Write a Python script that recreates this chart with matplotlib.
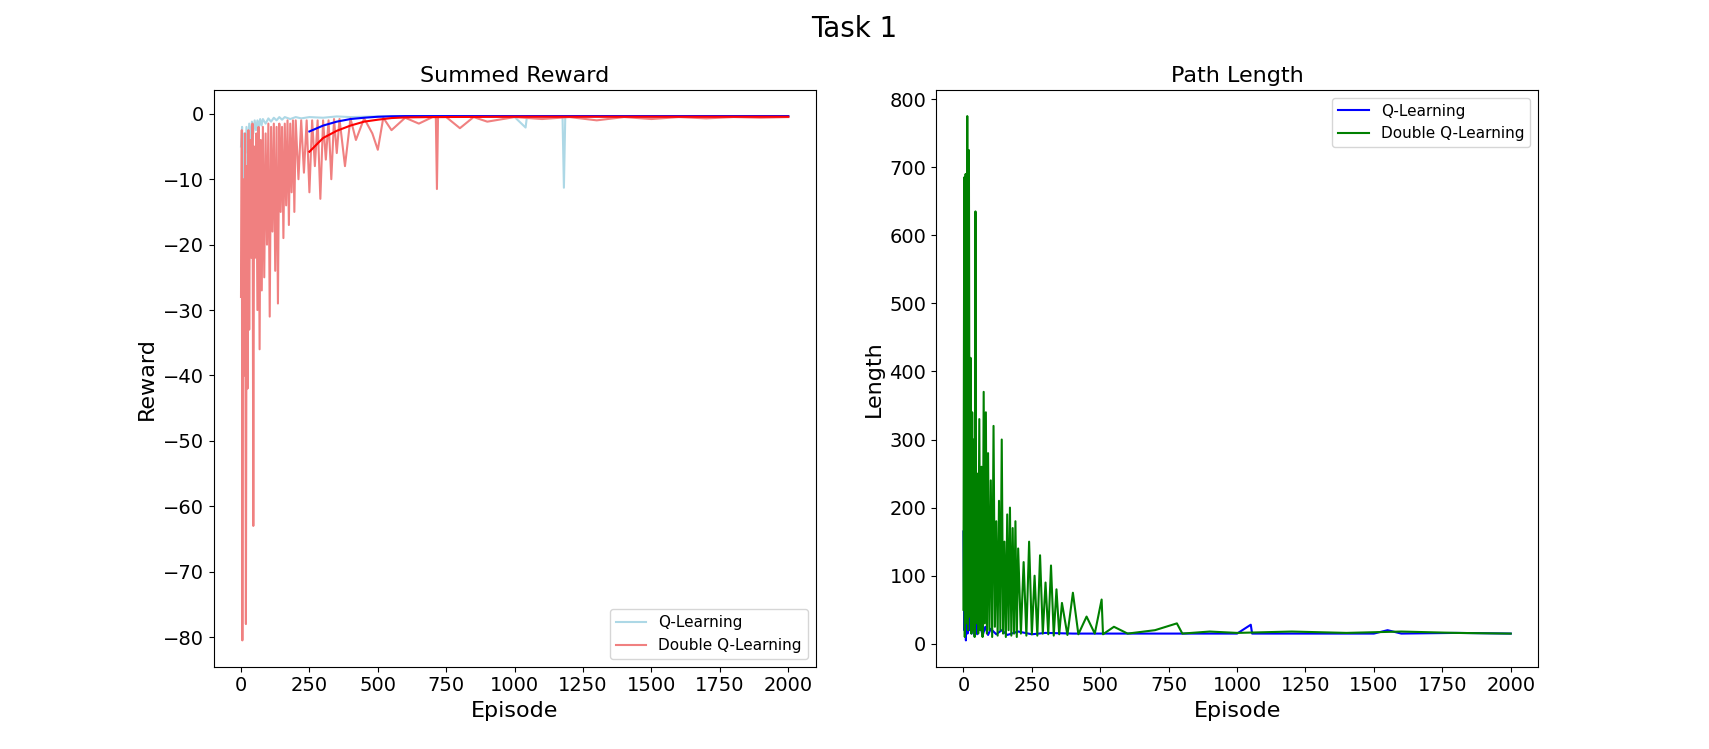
import matplotlib
matplotlib.use("Agg")
from matplotlib import pyplot as plt

q_ep = [0, 4, 8, 12, 16, 20, 25, 30, 35, 40, 45, 50, 55, 60, 65, 70, 75, 80, 90, 100, 110, 120, 130,
        140, 150, 160, 180, 200, 220, 250, 300, 350, 400, 500, 600, 800, 1000, 1040, 1045, 1100,
        1175, 1180, 1185, 1300, 1500, 1700, 1900, 2000]
q_rew = [-5, -2, -12, -3, -8, -2, -6, -1.5, -4, -1.2, -3, -1, -2.5, -1, -2, -0.8, -1.8, -0.8, -1.5,
         -0.7, -1.2, -0.6, -1.0, -0.5, -0.9, -0.5, -0.8, -0.5, -0.7, -0.5, -0.6, -0.4, -0.5, -0.4,
         -0.4, -0.4, -0.5, -2.1, -0.4, -0.4, -0.4, -11.3, -0.4, -0.4, -0.5, -0.4, -0.4, -0.4]

d_ep = [0, 3, 5, 8, 12, 15, 18, 21, 24, 27, 30, 34, 38, 42, 45, 48, 52, 56, 60, 64, 68, 72, 76, 80,
        85, 90, 95, 100, 105, 110, 115, 120, 125, 130, 135, 140, 145, 150, 155, 160, 165, 170,
        175, 180, 185, 190, 195, 200, 210, 220, 230, 240, 250, 260, 270, 280, 290, 300, 310, 320,
        330, 340, 350, 360, 380, 400, 420, 450, 480, 500, 520, 550, 600, 650, 700, 712, 716, 720,
        750, 800, 850, 900, 1000, 1100, 1200, 1300, 1400, 1500, 1600, 1700, 1800, 1900, 2000]
d_rew = [-28, -2.5, -80.5, -10, -40, -3, -78, -8, -42, -2.5, -33, -4, -22, -1.5, -63, -5, -22, -3,
         -30, -2, -36, -4, -27, -2, -25, -3, -20, -1.5, -31, -2, -18, -1.5, -24, -2, -29, -1.5,
         -15, -2, -19, -1.5, -14, -1, -17, -1.5, -12, -1, -15, -1, -10, -1, -9, -1, -12, -1, -8,
         -1, -13, -1, -7, -1, -10, -0.8, -6, -0.8, -8, -0.7, -4, -0.7, -3, -5.5, -0.6, -2.5, -0.6,
         -1.5, -0.5, -0.5, -11.5, -0.5, -0.5, -2.2, -0.5, -1.2, -0.5, -0.8, -0.5, -1.0, -0.5, -0.8,
         -0.5, -0.7, -0.5, -0.6, -0.5]

# Moving averages
ma_ep = [250, 300, 350, 400, 450, 500, 550, 600, 700, 1000, 1500, 2000]
q_ma = [-2.7, -1.8, -1.2, -0.8, -0.6, -0.45, -0.38, -0.35, -0.35, -0.35, -0.35, -0.35]
d_ma = [-5.8, -3.7, -2.6, -1.8, -1.2, -0.9, -0.65, -0.55, -0.5, -0.45, -0.45, -0.45]

# Path length
pq_ep = [0, 3, 6, 9, 12, 15, 18, 22, 26, 30, 35, 40, 45, 50, 60, 70, 80, 90, 100, 120, 140, 160,
         200, 250, 300, 400, 500, 700, 1000, 1050, 1055, 1200, 1500, 1550, 1600, 1800, 2000]
pq_len = [165, 20, 295, 5, 115, 15, 90, 20, 60, 15, 45, 12, 35, 14, 30, 12, 25, 13, 22, 14, 20,
          13, 18, 14, 16, 15, 15, 15, 15, 28, 15, 15, 15, 20, 15, 16, 15]

pd_ep = [0, 3, 5, 8, 11, 14, 17, 20, 23, 26, 29, 32, 35, 38, 41, 44, 47, 50, 54, 58, 62, 66, 70,
         74, 78, 82, 86, 90, 95, 100, 105, 110, 115, 120, 125, 130, 135, 140, 145, 150, 155, 160,
         165, 170, 175, 180, 185, 190, 195, 200, 210, 220, 230, 240, 250, 260, 270, 280, 290,
         300, 310, 320, 330, 340, 350, 360, 380, 400, 420, 450, 480, 505, 510, 550, 600, 700,
         780, 800, 900, 1000, 1200, 1400, 1600, 1800, 2000]
pd_len = [50, 685, 10, 690, 30, 775, 20, 725, 40, 420, 15, 340, 20, 300, 10, 635, 30, 250, 15, 330,
          20, 260, 10, 370, 30, 340, 15, 280, 20, 240, 10, 320, 25, 180, 12, 210, 20, 300, 15,
          150, 10, 190, 20, 200, 12, 170, 15, 180, 10, 140, 15, 120, 12, 150, 14, 100, 12, 130,
          15, 90, 14, 115, 12, 80, 14, 60, 13, 75, 14, 40, 15, 65, 14, 25, 15, 20, 30, 15, 18, 16,
          18, 16, 18, 16, 15]

fig, (ax1, ax2) = plt.subplots(1, 2, figsize=(17.09, 7.49), dpi=100)
fig.suptitle("Task 1", fontsize=20)

ax1.plot(q_ep, q_rew, color="lightblue", label="Q-Learning")
ax1.plot(d_ep, d_rew, color="lightcoral", label="Double Q-Learning")
ax1.plot(ma_ep, q_ma, color="blue")
ax1.plot(ma_ep, d_ma, color="red")
ax1.set_title("Summed Reward", fontsize=16)
ax1.set_xlabel("Episode", fontsize=16)
ax1.set_ylabel("Reward", fontsize=16)
ax1.legend(loc="lower right", fontsize=11)

ax2.plot(pq_ep, pq_len, color="blue", label="Q-Learning")
ax2.plot(pd_ep, pd_len, color="green", label="Double Q-Learning")
ax2.set_title("Path Length", fontsize=16)
ax2.set_xlabel("Episode", fontsize=16)
ax2.set_ylabel("Length", fontsize=16)
ax2.legend(loc="upper right", fontsize=11)

for ax in (ax1, ax2):
    ax.tick_params(labelsize=14)
    ax.set_xticks(range(0, 2001, 250))

plt.savefig("out.png")
